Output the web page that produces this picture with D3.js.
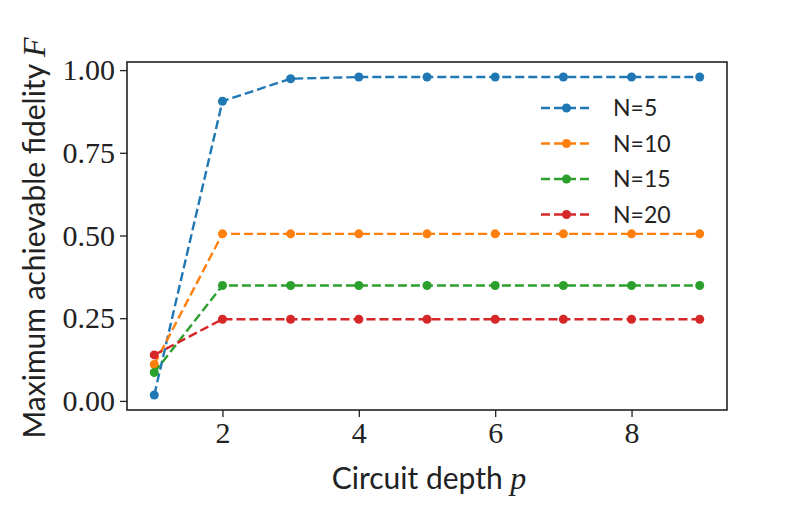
<!DOCTYPE html>
<html>
<head>
<meta charset="utf-8">
<style>
  body { margin: 0; background: #fff; }
  svg { display: block; }
  .tick text { font-family: 'Liberation Serif', serif; font-size: 30px; fill: #222; }
  .tick line { stroke: #222; stroke-width: 1.3; }
  .domain { display: none; }
  .lab { font-family: 'Lato', 'Open Sans', sans-serif; font-size: 30px; fill: #222; }
  .leg { font-family: 'Lato', 'Open Sans', sans-serif; font-size: 23px; fill: #222; }
</style>
</head>
<body>
<svg width="789" height="526"></svg>
<script src="https://cdn.jsdelivr.net/npm/d3@7"></script>
<script>
let depths = [1, 2, 3, 4, 5, 6, 7, 8, 9];
let seriesNames = ["N=5", "N=10", "N=15", "N=20"];
let colors = ["#1f77b4", "#ff7f0e", "#2ca02c", "#d62728"];
let fidN5  = [0.018, 0.906, 0.974, 0.979, 0.979, 0.979, 0.979, 0.979, 0.979];
let fidN10 = [0.110, 0.505, 0.505, 0.505, 0.505, 0.505, 0.505, 0.505, 0.505];
let fidN15 = [0.086, 0.349, 0.349, 0.349, 0.349, 0.349, 0.349, 0.349, 0.349];
let fidN20 = [0.139, 0.247, 0.247, 0.247, 0.247, 0.247, 0.247, 0.247, 0.247];
let xTicks = [2, 4, 6, 8];
let yTicks = [0, 0.25, 0.5, 0.75, 1.0];

let allSeries = [fidN5, fidN10, fidN15, fidN20];

let svg = d3.select("svg");
let margin = { top: 62, right: 62, bottom: 116, left: 127 };
let width = 789, height = 526;

let x = d3.scaleLinear()
    .domain([0.6, 9.4])
    .range([margin.left, width - margin.right]);

let y = d3.scaleLinear()
    .domain([-0.0275, 1.0245])
    .range([height - margin.bottom, margin.top]);

svg.append("g")
    .attr("class", "x axis")
    .attr("transform", `translate(0,${height - margin.bottom})`)
    .call(d3.axisBottom(x).tickValues(xTicks).tickSize(7).tickPadding(5).tickFormat(d3.format("d")));

svg.append("g")
    .attr("class", "y axis")
    .attr("transform", `translate(${margin.left},0)`)
    .call(d3.axisLeft(y).tickValues(yTicks).tickSize(7).tickPadding(5).tickFormat(d3.format(".2f")));

let line = d3.line()
    .x((d, i) => x(depths[i]))
    .y(d => y(d));

let groups = svg.append("g")
    .selectAll("g")
    .data(allSeries)
    .join("g");

groups.append("path")
    .attr("d", d => line(d))
    .attr("fill", "none")
    .attr("stroke", (d, i) => colors[i])
    .attr("stroke-width", 2.4)
    .attr("stroke-dasharray", "9 4");

groups.selectAll("circle")
    .data((d, i) => d.map(v => ({ v: v, c: colors[i] })))
    .join("circle")
    .attr("cx", (d, i) => x(depths[i]))
    .attr("cy", d => y(d.v))
    .attr("r", 4.5)
    .attr("fill", d => d.c);

// frame
svg.append("rect")
    .attr("x", margin.left)
    .attr("y", margin.top)
    .attr("width", width - margin.left - margin.right)
    .attr("height", height - margin.top - margin.bottom)
    .attr("fill", "none")
    .attr("stroke", "#222")
    .attr("stroke-width", 1.6);

// legend
let legend = svg.append("g").attr("class", "legend");
let legRows = legend.selectAll("g")
    .data(seriesNames)
    .join("g")
    .attr("transform", (d, i) => `translate(541,${108 + i * 35.5})`);

legRows.append("line")
    .attr("x1", 0).attr("x2", 51)
    .attr("stroke", (d, i) => colors[i])
    .attr("stroke-width", 2.4)
    .attr("stroke-dasharray", "9 4");

legRows.append("circle")
    .attr("cx", 25.5)
    .attr("r", 4.5)
    .attr("fill", (d, i) => colors[i]);

legRows.append("text")
    .attr("class", "leg")
    .attr("x", 72)
    .attr("dy", "0.36em")
    .text(d => d);

// axis titles
let xt = svg.append("text")
    .attr("class", "lab")
    .attr("x", (margin.left + width - margin.right) / 2 + 2)
    .attr("y", 489)
    .attr("text-anchor", "middle");
xt.append("tspan").text("Circuit depth ");
xt.append("tspan").attr("font-family", "'Liberation Serif', serif").attr("font-style", "italic").attr("font-size", "32px").text("p");

let yt = svg.append("text")
    .attr("class", "lab")
    .attr("transform", `translate(45,${(margin.top + height - margin.bottom) / 2 + 2}) rotate(-90)`)
    .attr("text-anchor", "middle");
yt.append("tspan").text("Maximum achievable fidelity ");
yt.append("tspan").attr("font-family", "'Liberation Serif', serif").attr("font-style", "italic").attr("font-size", "32px").text("F");
</script>
</body>
</html>
